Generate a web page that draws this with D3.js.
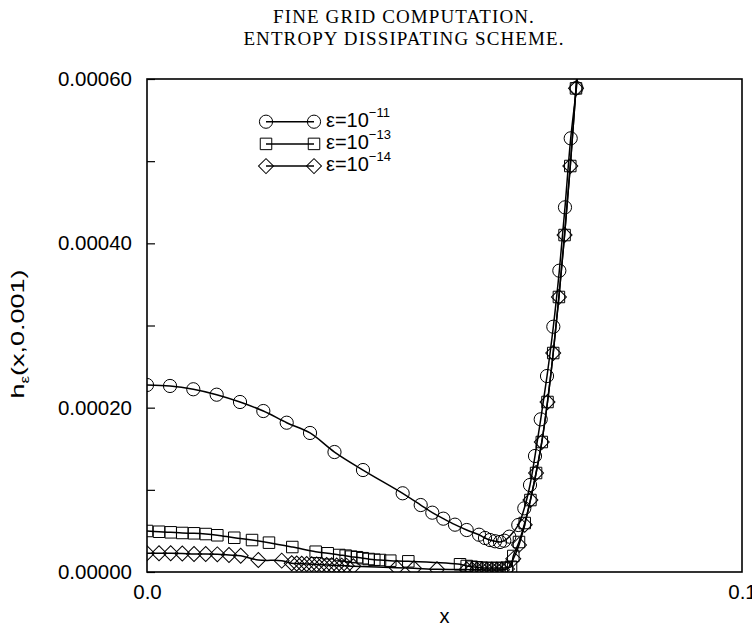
<!DOCTYPE html>
<html>
<head>
<meta charset="utf-8">
<script src="https://cdn.jsdelivr.net/npm/d3@7"></script>
<style>
  body { margin: 0; background: #fff; }
  svg { display: block; }
</style>
</head>
<body>
<svg id="chart" width="752" height="627"></svg>
<script>
// ---- data ----
const titleLines = ["FINE GRID COMPUTATION.", "ENTROPY DISSIPATING SCHEME."];
const xLabel = "x";
const xTicks = [0.0, 0.1];
const yTicks = [0.0, 0.0002, 0.0004, 0.0006];
const yMinorTicks = [0.0001, 0.0003, 0.0005];
const legendExponents = ["\u221211", "\u221213", "\u221214"];

// eps = 1e-11 (circles)
const eps11X = [0.0000, 0.00387, 0.00778, 0.01171, 0.01563, 0.01955, 0.02348, 0.02740,
  0.03151, 0.03630, 0.04297, 0.04600, 0.04795, 0.04980, 0.05176, 0.05373, 0.05580,
  0.05681, 0.05765, 0.05849, 0.05933, 0.06005, 0.06089, 0.06240, 0.06341, 0.06437,
  0.06521, 0.06617, 0.06723, 0.06829, 0.06930, 0.07025, 0.07121, 0.07217, 0.07300];
const eps11Y = [0.0002276, 0.0002264, 0.0002224, 0.0002158, 0.0002069, 0.0001959, 0.0001817, 0.0001692,
  0.0001460, 0.0001241, 0.0000958, 0.0000815, 0.0000722, 0.0000649, 0.0000576, 0.0000511, 0.0000454,
  0.0000414, 0.0000389, 0.0000374, 0.0000365, 0.0000381, 0.0000430, 0.0000572, 0.0000775, 0.0001059,
  0.0001412, 0.0001858, 0.0002385, 0.0002985, 0.0003667, 0.0004438, 0.0005278, 0.0005890, 0.0006500];

// eps = 1e-13 (squares)
const eps13X = [0.0000, 0.00202, 0.00398, 0.00593, 0.00790, 0.00987, 0.01182, 0.01467,
  0.01765, 0.02050, 0.02442, 0.02835, 0.03037, 0.03232, 0.03339, 0.03429, 0.03529,
  0.03625, 0.03726, 0.03820, 0.03916, 0.04089, 0.04392, 0.05261, 0.05373, 0.05457,
  0.05541, 0.05625, 0.05709, 0.05793, 0.05877, 0.05961, 0.06045, 0.06118, 0.06156,
  0.06252, 0.06348, 0.06444, 0.06539, 0.06635, 0.06731, 0.06827, 0.06923, 0.07018,
  0.07114, 0.07210, 0.07290];
const eps13Y = [0.0000499, 0.0000490, 0.0000483, 0.0000475, 0.0000471, 0.0000462, 0.0000447, 0.0000417,
  0.0000389, 0.0000357, 0.0000304, 0.0000247, 0.0000228, 0.0000207, 0.0000199, 0.0000187, 0.0000180,
  0.0000168, 0.0000158, 0.0000150, 0.0000146, 0.0000138, 0.0000130, 0.0000094, 0.0000073, 0.0000064,
  0.0000057, 0.0000052, 0.0000049, 0.0000049, 0.0000049, 0.0000049, 0.0000052, 0.0000064, 0.0000195,
  0.0000365, 0.0000596, 0.0000876, 0.0001205, 0.0001582, 0.0002069, 0.0002665, 0.0003347, 0.0004101,
  0.0004941, 0.0005886, 0.0006600];

// eps = 1e-14 (diamonds)
const eps14X = [0.0000, 0.00202, 0.00398, 0.00593, 0.00790, 0.00987, 0.01182, 0.01378,
  0.01575, 0.01871, 0.02264, 0.02432, 0.02516, 0.02600, 0.02684, 0.02768, 0.02852,
  0.02936, 0.03020, 0.03104, 0.03188, 0.03272, 0.03356, 0.03467, 0.04197, 0.04487,
  0.04874, 0.05373, 0.05462, 0.05546, 0.05630, 0.05714, 0.05798, 0.05882, 0.05966,
  0.06050, 0.06156, 0.06252, 0.06348, 0.06444, 0.06539, 0.06635, 0.06731, 0.06827,
  0.06923, 0.07018, 0.07114, 0.07210, 0.07290];
const eps14Y = [0.0000228, 0.0000228, 0.0000228, 0.0000225, 0.0000219, 0.0000219, 0.0000215, 0.0000207,
  0.0000198, 0.0000146, 0.0000138, 0.0000106, 0.0000103, 0.0000101, 0.0000097, 0.0000095, 0.0000091,
  0.0000089, 0.0000085, 0.0000083, 0.0000080, 0.0000078, 0.0000075, 0.0000071, 0.0000052, 0.0000045,
  0.0000033, 0.0000030, 0.0000028, 0.0000027, 0.0000026, 0.0000024, 0.0000024, 0.0000024, 0.0000027,
  0.0000037, 0.0000160, 0.0000330, 0.0000574, 0.0000876, 0.0001205, 0.0001582, 0.0002069, 0.0002665,
  0.0003347, 0.0004101, 0.0004941, 0.0005886, 0.0006600];

// ---- layout ----
const svg = d3.select("#chart");
const plot = { left: 147, top: 79, right: 742, bottom: 572 };

const x = d3.scaleLinear().domain([0, 0.1]).range([plot.left, plot.right]);
const y = d3.scaleLinear().domain([0, 0.0006]).range([plot.bottom, plot.top]);

const sansFont = "'Liberation Sans', Arial, sans-serif";
const serifFont = "'Liberation Serif', 'Times New Roman', serif";

// title
svg.append("g").selectAll("text").data(titleLines).join("text")
  .attr("x", 404)
  .attr("y", (d, i) => 23 + i * 22.3)
  .attr("text-anchor", "middle")
  .attr("font-family", serifFont)
  .attr("font-size", 19)
  .attr("letter-spacing", 1.1)
  .attr("fill", "#000")
  .text(d => d);

// clip
svg.append("defs").append("clipPath").attr("id", "plot-clip")
  .append("rect")
  .attr("x", plot.left).attr("y", plot.top)
  .attr("width", plot.right - plot.left).attr("height", plot.bottom - plot.top);

// y axis with inward ticks
const yAxis = d3.axisLeft(y).tickValues(yTicks).tickFormat(d3.format(".5f"))
  .tickSizeInner(-8).tickSizeOuter(0).tickPadding(15);
const gy = svg.append("g").attr("transform", `translate(${plot.left},0)`).call(yAxis);
gy.select(".domain").remove();
gy.selectAll("text").attr("font-family", sansFont).attr("font-size", 20.5).attr("fill", "#000");
gy.selectAll("line").attr("stroke", "#000").attr("stroke-width", 1.2);

const yMinorAxis = d3.axisLeft(y).tickValues(yMinorTicks).tickFormat("")
  .tickSizeInner(-8).tickSizeOuter(0);
const gym = svg.append("g").attr("transform", `translate(${plot.left},0)`).call(yMinorAxis);
gym.select(".domain").remove();
gym.selectAll("line").attr("stroke", "#000").attr("stroke-width", 1.2);

// x axis labels
const xAxis = d3.axisBottom(x).tickValues(xTicks).tickFormat(d3.format(".1f"))
  .tickSizeInner(0).tickSizeOuter(0).tickPadding(12);
const gx = svg.append("g").attr("transform", `translate(0,${plot.bottom})`).call(xAxis);
gx.select(".domain").remove();
gx.selectAll("text").attr("font-family", sansFont).attr("font-size", 20.5).attr("fill", "#000");

// frame
svg.append("rect")
  .attr("x", plot.left).attr("y", plot.top)
  .attr("width", plot.right - plot.left).attr("height", plot.bottom - plot.top)
  .attr("fill", "none").attr("stroke", "#000").attr("stroke-width", 1.6);

// axis titles
svg.append("text")
  .attr("x", (plot.left + plot.right) / 2).attr("y", 623)
  .attr("text-anchor", "middle")
  .attr("font-family", sansFont).attr("font-size", 20)
  .text(xLabel);

// y title: rotated and stretched along its run
const yl = svg.append("text")
  .attr("transform", `translate(24,334) rotate(-90) scale(1.42,1)`)
  .attr("text-anchor", "middle")
  .attr("font-family", sansFont).attr("font-size", 19);
yl.append("tspan").text("h");
yl.append("tspan").attr("font-size", 12).attr("dy", 5).text("\u03b5");
yl.append("tspan").attr("dy", -5).text("(x,0.001)");

// markers
const markerShapes = {
  circle: d3.symbol(d3.symbolCircle, Math.PI * 6.6 * 6.6),
  square: d3.symbol(d3.symbolSquare, 11.5 * 11.5),
  diamond: d3.symbol(d3.symbolSquare, 10.6 * 10.6)
};
const markerRotate = { circle: 0, square: 0, diamond: 45 };

const series = [
  { xs: eps11X, ys: eps11Y, shape: "circle", exp: legendExponents[0] },
  { xs: eps13X, ys: eps13Y, shape: "square", exp: legendExponents[1] },
  { xs: eps14X, ys: eps14Y, shape: "diamond", exp: legendExponents[2] }
];

const line = d3.line()
  .x(d => x(d[0])).y(d => y(d[1]))
  .curve(d3.curveCatmullRom.alpha(0.5));

const plotG = svg.append("g").attr("clip-path", "url(#plot-clip)");

series.forEach(s => {
  const pts = s.xs.map((v, i) => [v, s.ys[i]]);
  plotG.append("path")
    .datum(pts)
    .attr("d", line)
    .attr("fill", "none")
    .attr("stroke", "#000")
    .attr("stroke-width", 1.5);
  plotG.append("g").selectAll("path").data(pts).join("path")
    .attr("transform", d => `translate(${x(d[0])},${y(d[1])}) rotate(${markerRotate[s.shape]})`)
    .attr("d", markerShapes[s.shape]())
    .attr("fill", "none")
    .attr("stroke", "#000")
    .attr("stroke-width", 1);
});

// legend
const legend = svg.append("g");
series.forEach((s, i) => {
  const ly = 121.7 + i * 22.2;
  const x0 = 266, x1 = 314;
  legend.append("line")
    .attr("x1", x0).attr("x2", x1).attr("y1", ly).attr("y2", ly)
    .attr("stroke", "#000").attr("stroke-width", 1.5);
  [x0, x1].forEach(px => {
    legend.append("path")
      .attr("transform", `translate(${px},${ly}) rotate(${markerRotate[s.shape]})`)
      .attr("d", markerShapes[s.shape]())
      .attr("fill", "none").attr("stroke", "#000").attr("stroke-width", 1);
  });
  const t = legend.append("text")
    .attr("x", 326).attr("y", ly + 5)
    .attr("font-family", sansFont).attr("font-size", 20);
  t.append("tspan").text("\u03b5=10");
  t.append("tspan").attr("font-size", 13).attr("dy", -10).text(s.exp);
});
</script>
</body>
</html>
